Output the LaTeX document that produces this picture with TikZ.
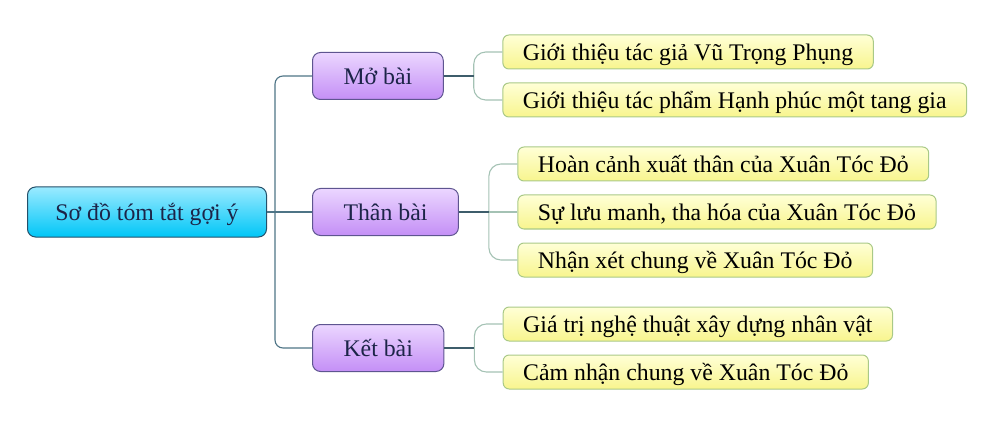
\documentclass[tikz,border=0pt]{standalone}
\usepackage{fontspec}
\setmainfont{Liberation Serif}
\usetikzlibrary{trees}

\definecolor{gocTren}{HTML}{9AEAFF}
\definecolor{gocDuoi}{HTML}{00C6F7}
\definecolor{gocVien}{HTML}{24506A}
\definecolor{mucTren}{HTML}{EBD6FF}
\definecolor{mucDuoi}{HTML}{C48FF6}
\definecolor{mucVien}{HTML}{5E5590}
\definecolor{laTren}{HTML}{FFFFD6}
\definecolor{laDuoi}{HTML}{F8F58E}
\definecolor{laVien}{HTML}{A9C987}
\definecolor{chu}{HTML}{1C2448}
\definecolor{stvol}{HTML}{4E7486}
\definecolor{vetka}{HTML}{A4C2B4}

\begin{document}
\begin{tikzpicture}[
        x=1pt, y=1pt,
        grow'=east, % Дерево растет слева направо
        font=\fontsize{23.8}{28}\selectfont,
        text height=21pt, text depth=4pt,
        edge from parent/.style = {draw=stvol, line width=1.1pt},
        level 1/.style = {level distance=165pt, sibling distance=136pt, % Расстояние между уровнями
                edge from parent path={([xshift=8pt]\tikzparentnode.east) [rounded corners=8pt] |- (\tikzchildnode.west)}},
        level 2/.style = {level distance=124.5pt, sibling distance=48pt,
                edge from parent/.style={draw=vetka, line width=1.1pt},
                edge from parent path={([xshift=30pt]\tikzparentnode.east) [rounded corners=12pt] |- (\tikzchildnode.west)}},
        thang/.style = {edge from parent path={([xshift=#1]\tikzparentnode.east) -- (\tikzchildnode.west)}},
        goc/.style = {rectangle, rounded corners=8pt, draw=gocVien, line width=1pt, text=chu,
                top color=gocTren, middle color=gocDuoi!85!white, bottom color=gocDuoi,
                minimum width=239pt, minimum height=50pt}, % Корень
        muc/.style = {rectangle, rounded corners=8pt, draw=mucVien, line width=1pt, anchor=west, text=chu,
                top color=mucTren, middle color=mucDuoi!85!white, bottom color=mucDuoi,
                inner xsep=31pt, minimum height=47pt},
        la/.style = {rectangle, rounded corners=6pt, draw=laVien, line width=1pt, anchor=west,
                top color=laTren, middle color=laDuoi!70!white, bottom color=laDuoi,
                inner xsep=20pt, minimum height=34pt}, % Листья
    ]
    \useasboundingbox (0,0) rectangle (1001,-422);

    \node[goc] (goc) at (147,-212) {Sơ đồ tóm tắt gợi ý}
    child {node[muc] (mo) {Mở bài}
            child {node[la] (mo1) {Giới thiệu tác giả Vũ Trọng Phụng}}
            child {node[la] (mo2) {Giới thiệu tác phẩm Hạnh phúc một tang gia}}}
    child[thang=0pt] {node[muc] (than) {Thân bài}
            child[level distance=132pt] {node[la] (than1) {Hoàn cảnh xuất thân của Xuân Tóc Đỏ}}
            child[level distance=132pt, thang=30pt] {node[la] (than2) {Sự lưu manh, tha hóa của Xuân Tóc Đỏ}}
            child[level distance=132pt] {node[la] (than3) {Nhận xét chung về Xuân Tóc Đỏ}}}
    child {node[muc] (ket) {Kết bài}
            child {node[la] (ket1) {Giá trị nghệ thuật xây dựng nhân vật}}
            child {node[la] (ket2) {Cảm nhận chung về Xuân Tóc Đỏ}}};

    \foreach \n in {mo, than, ket}
        \draw[draw=stvol!80!black, line width=1.1pt] (\n.east) -- ++(30pt,0);
\end{tikzpicture}
\end{document}
